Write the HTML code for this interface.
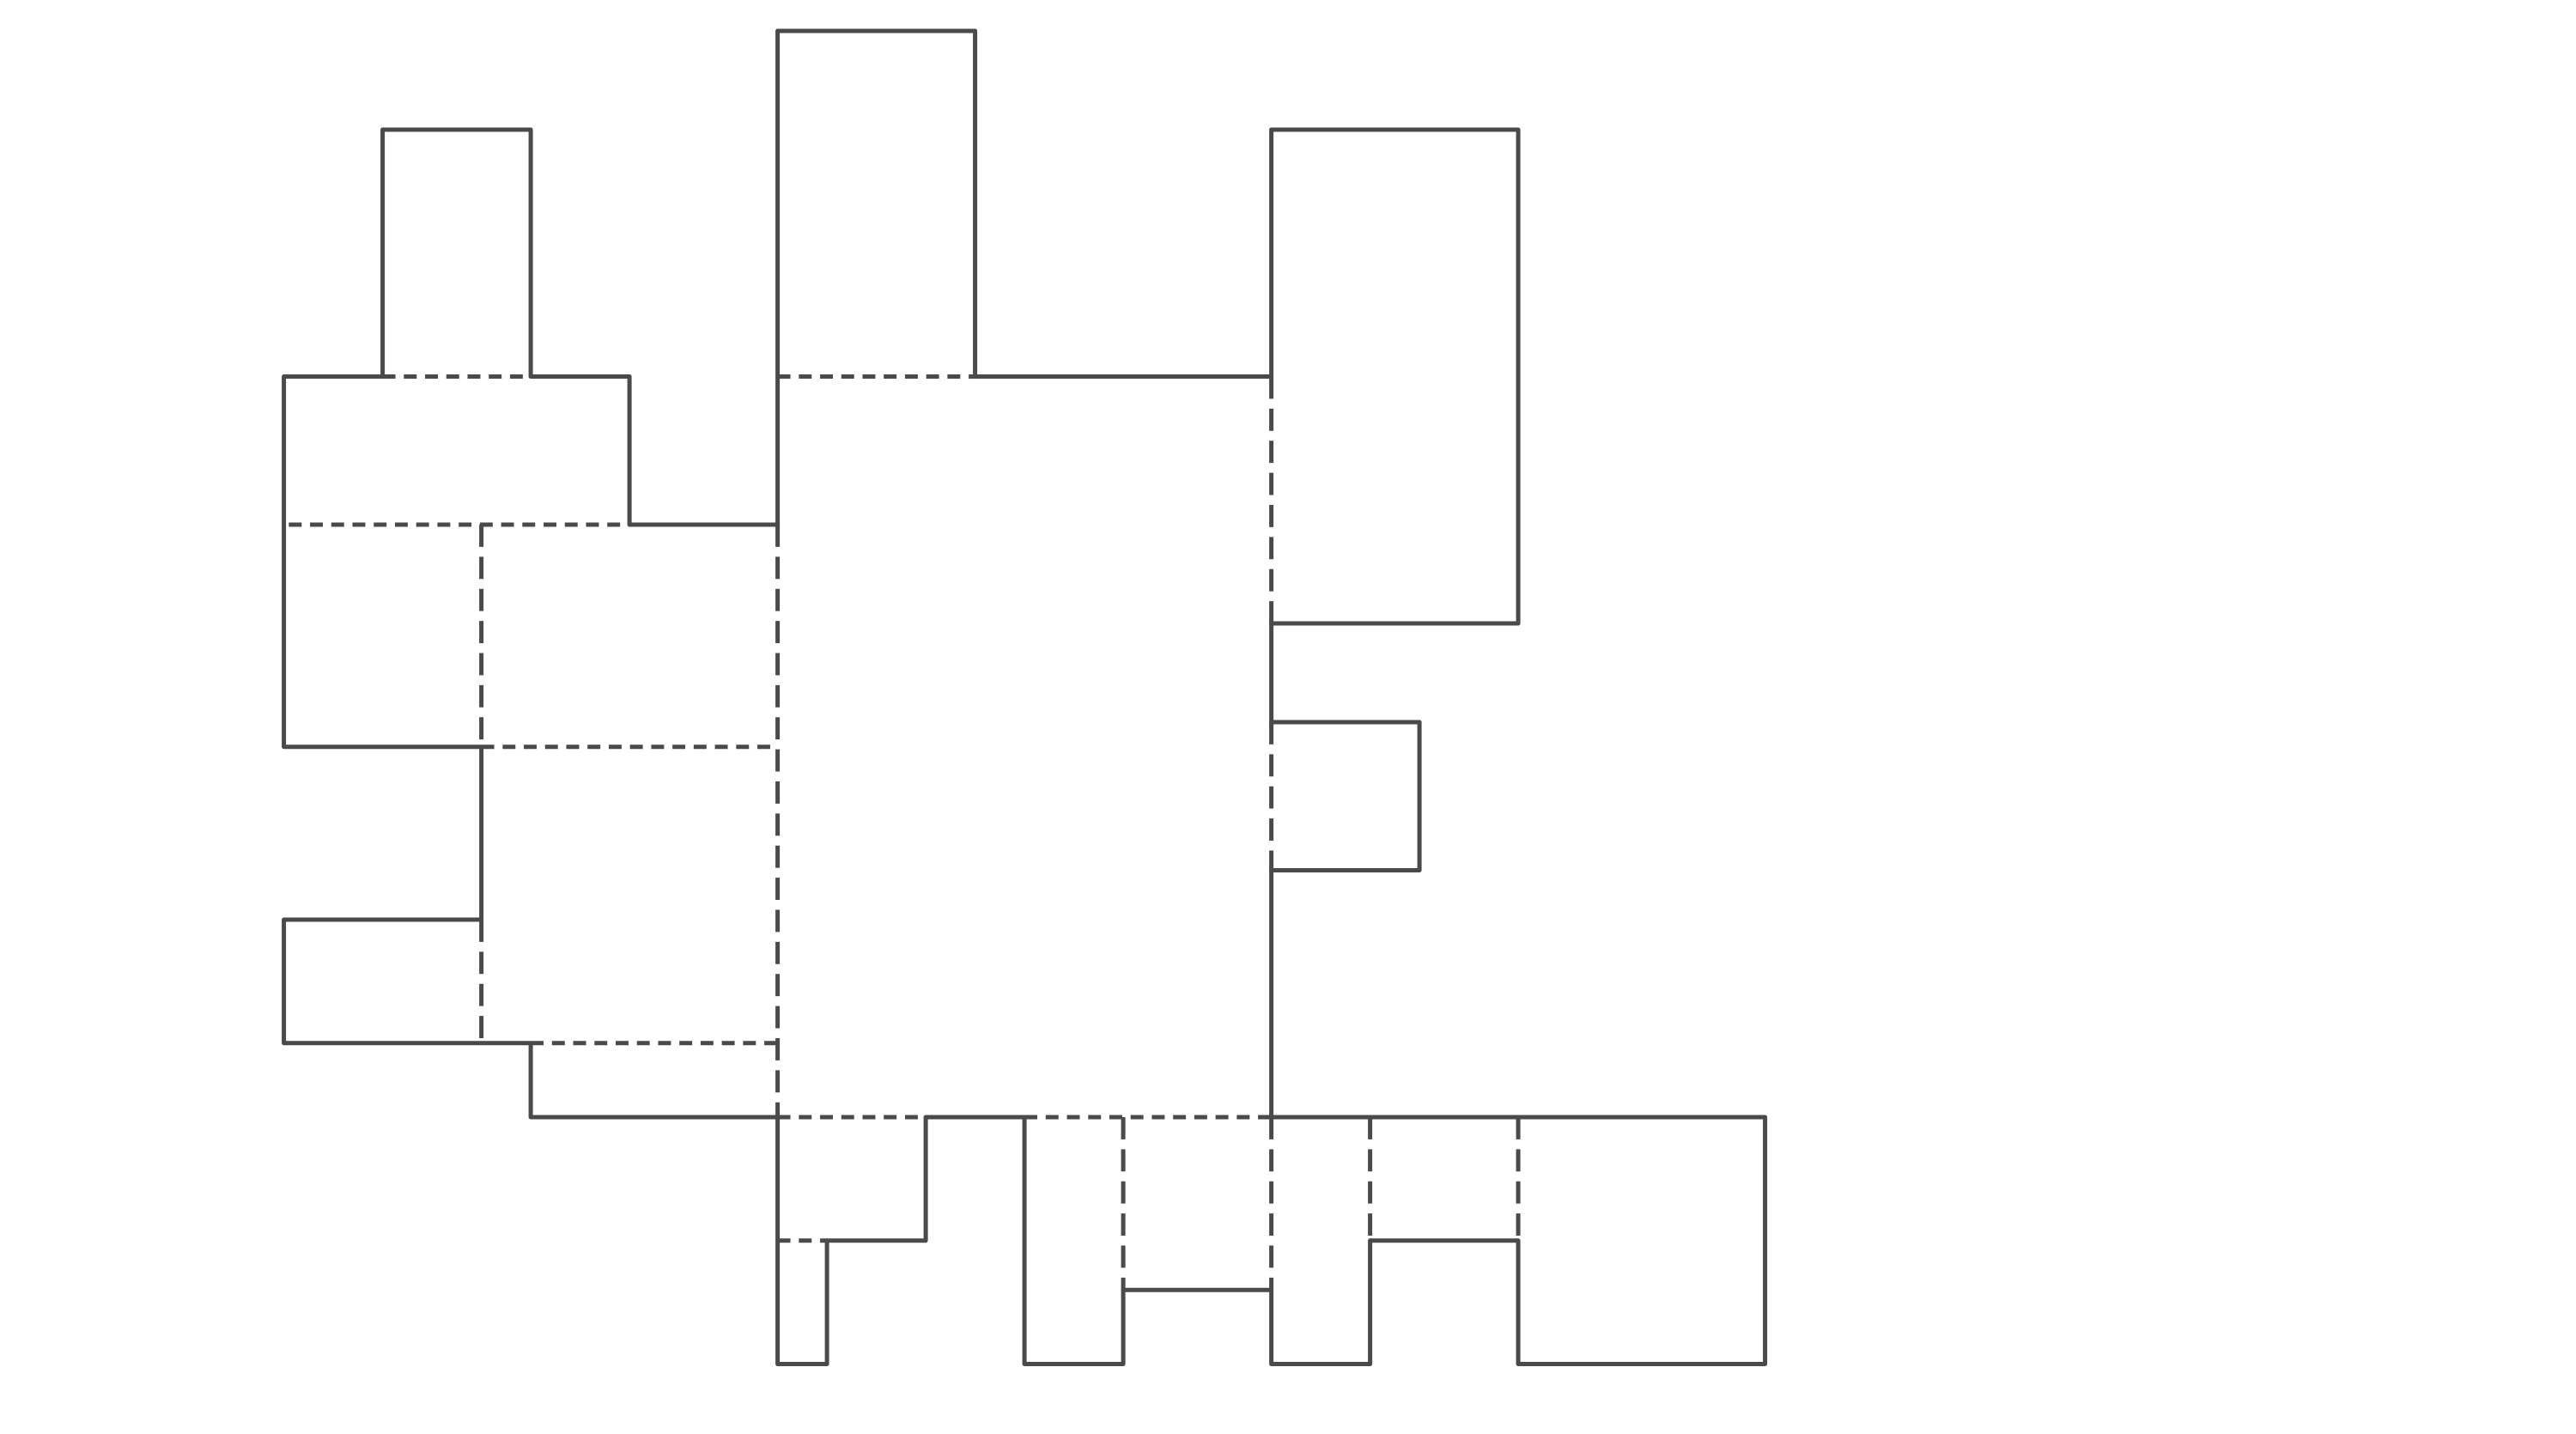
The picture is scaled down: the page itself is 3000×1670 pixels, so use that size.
<!DOCTYPE html>
<html><head><meta charset="utf-8"><style>html,body{margin:0;padding:0;background:#fff}svg{display:block}</style></head>
<body>
<svg width="3000" height="1670" viewBox="0 0 3000 1670" xmlns="http://www.w3.org/2000/svg">
<g transform="translate(330.6,438.5) scale(57.5)" fill="none" stroke="#4a4a4a" stroke-width="0.087" stroke-linecap="round">
<g>
<path d="M2,-5H5 M2,-5V0 M5,-5V0 M0,0H2 M5,0H7 M7,0V3 M7,3H10
M0,0V7.5 M0,7.5H4 M4,7.5V11 M0,11H4 M0,11V13.5 M0,13.5H5 M5,13.5V15 M5,15H10
M10,-7V3 M10,-7H14 M14,-7V0 M14,0H20
M20,-5V0 M20,-5H25 M25,-5V5 M20,5H25 M20,5V7 M20,7H23 M23,7V10 M20,10H23 M20,10V15
M13,15H15 M20,15H30
M10,15V20 M11,17.5H13 M13,15V17.5 M11,17.5V20 M10,20H11
M15,15V20 M15,20H17 M17,18.5V20 M17,18.5H20 M20,18.5V20 M20,20H22
M22,17.5V20 M22,17.5H25 M25,17.5V20 M25,20H30 M30,15V20"/>
</g>
<g stroke-dasharray="0.26 0.17" stroke-linecap="butt">
<path d="M2,0H5 M10,0H14 M0.1,3H7 M4,7.5H10 M5,13.5H10
M10,15H13 M15,15H20 M10,17.5H11"/>
<path d="M4,3V7.5 M4,11V13.5 M10,3V15 M20,0V5 M20,7V10
M17,15V18.5 M20,15V18.5 M22,15V17.5 M25,15V17.5" stroke-dasharray="0.45 0.2"/>
</g>
</g>
</svg>
</body></html>
